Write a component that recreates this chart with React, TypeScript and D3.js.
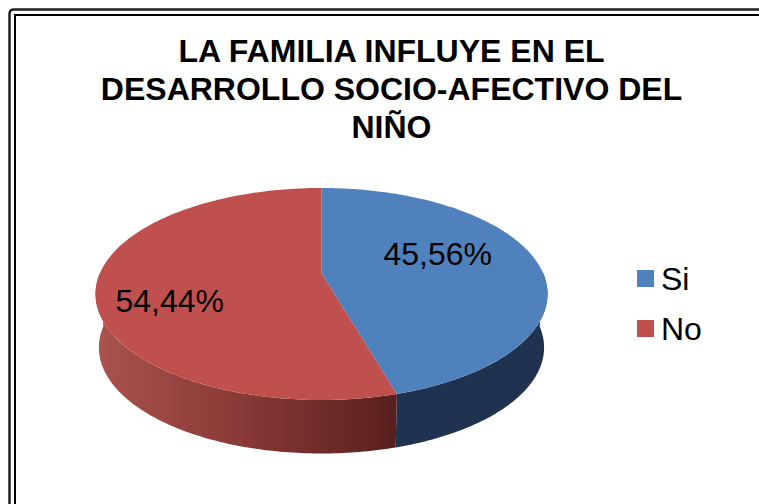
import React from "react";
import * as d3 from "d3";

const categories = ["Si", "No"];
const values = [45.56, 54.44];
const labels = ["45,56%", "54,44%"];
const titleLines = ["LA FAMILIA INFLUYE EN EL", "DESARROLLO SOCIO-AFECTIVO DEL", "NIÑO"];
const topColors = ["#4f81bd", "#c0504d"];
const FONT = "'Liberation Sans', Arial, sans-serif";

const cx = 321.5;
const k = 221.5;
const pc = -0.198;
const pa = 47.8;
const pb = 273;
const depth = 53.5;
const bottomScale = 0.985;

type P = [number, number];
const project = (t: number): P => {
  const u = Math.sin(t);
  const v = -Math.cos(t);
  const w = 1 + pc * v;
  return [cx + (k * u) / w, (pa * v + pb) / w];
};
const lower = (t: number): P => {
  const [x, y] = project(t);
  return [cx + (x - cx) * bottomScale, y + depth];
};
const sample = (a: number, b: number, f: (t: number) => P): P[] =>
  d3.range(0, 121).map((i) => f(a + ((b - a) * i) / 120));

const line = d3.line<P>();
const pieData = d3.pie<number>().sort(null)(values);

export default function App() {
  const wedges = pieData.map((d) => [
    [cx, pb] as P,
    ...sample(d.startAngle, d.endAngle, project),
  ]);
  const split = pieData[0].endAngle;
  const sideBlue = [
    ...sample(Math.PI / 2, split, project),
    ...sample(split, Math.PI / 2, lower),
  ];
  const sideRed = [
    ...sample(split, (3 * Math.PI) / 2, project),
    ...sample((3 * Math.PI) / 2, split, lower),
  ];
  const splitX = project(split)[0];
  return (
    <svg
      width={759}
      height={504}
      style={{ position: "fixed", left: 0, top: 0, display: "block", background: "#fff" }}
    >
      <defs>
        <linearGradient id="redSide" gradientUnits="userSpaceOnUse" x1={cx - k} x2={splitX} y1={0} y2={0}>
          <stop offset="0" stopColor="#a9524f" />
          <stop offset="0.5" stopColor="#873834" />
          <stop offset="1" stopColor="#57201e" />
        </linearGradient>
      </defs>
      <rect width={759} height={504} fill="#fff" />
      <path d="M9.5 504V14Q9.5 9.5 14 9.5H759" fill="none" stroke="#222" strokeWidth={2.5} />
      <path d="M15 504V15H759" fill="none" stroke="#000" strokeWidth={2} />
      <g fontFamily={FONT} fontWeight="bold" fontSize={32} textAnchor="middle" fill="#000">
        {titleLines.map((t, i) => (
          <text key={t} x={391.5} y={62 + i * 38}>
            {t}
          </text>
        ))}
      </g>
      <path d={line(sideBlue) ?? ""} fill="#1f3350" />
      <path d={line(sideRed) ?? ""} fill="url(#redSide)" />
      {wedges.map((w, i) => (
        <path key={categories[i]} d={(line(w) ?? "") + "Z"} fill={topColors[i]} />
      ))}
      <g fontFamily={FONT} fontSize={32} fill="#000">
        <text x={383.5} y={265}>{labels[0]}</text>
        <text x={115.5} y={312}>{labels[1]}</text>
      </g>
      {categories.map((c, i) => (
        <g key={c}>
          <rect x={637} y={270 + i * 50} width={17} height={17} fill={topColors[i]} />
          <text x={661} y={290 + i * 50} fontFamily={FONT} fontSize={32} fill="#000">
            {c}
          </text>
        </g>
      ))}
    </svg>
  );
}
